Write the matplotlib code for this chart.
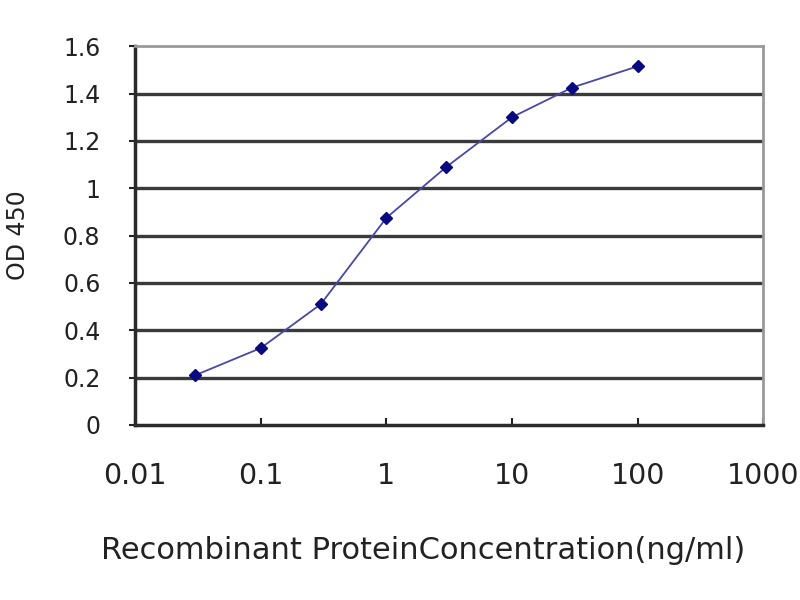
import matplotlib
matplotlib.use("Agg")
import matplotlib.pyplot as plt
from matplotlib.ticker import FixedLocator, FixedFormatter

# concentration (ng/ml) and OD 450 readings
conc = [0.03, 0.1, 0.3, 1, 3, 10, 30, 100]
od450 = [0.21, 0.325, 0.51, 0.875, 1.09, 1.30, 1.425, 1.515]

x_ticks = [0.01, 0.1, 1, 10, 100, 1000]
x_labels = ["0.01", "0.1", "1", "10", "100", "1000"]
y_ticks = [0, 0.2, 0.4, 0.6, 0.8, 1.0, 1.2, 1.4, 1.6]
y_labels = ["0", "0.2", "0.4", "0.6", "0.8", "1", "1.2", "1.4", "1.6"]

plt.rcParams['font.family'] = ['DejaVu Sans']

fig = plt.figure(figsize=(8, 6), dpi=100)
ax = fig.add_axes([0.169, 0.2917, 0.785, 0.6313])

ax.set_xscale("log")
ax.set_xlim(0.01, 1000)
ax.set_ylim(0, 1.6)

# horizontal gridlines like the excel plot
for y in y_ticks[1:-1]:
    ax.axhline(y, color="#3a3a3a", lw=2.4, zorder=1)

ax.plot(conc, od450, color="#4848a8", lw=1.3, zorder=2)
ax.plot(conc, od450, ls="none", marker="D", ms=6.5, color="#0a0a80", zorder=3)

ax.xaxis.set_major_locator(FixedLocator(x_ticks))
ax.xaxis.set_major_formatter(FixedFormatter(x_labels))
ax.xaxis.set_minor_locator(FixedLocator([]))
ax.set_yticks(y_ticks)
ax.set_yticklabels(y_labels)

ax.tick_params(axis="x", direction="in", length=5, width=1.5, labelsize=20.5, pad=27, colors="#222222")
ax.tick_params(axis="y", direction="out", length=4, width=1.5, labelsize=17, pad=21, colors="#222222")

for side in ("left", "bottom"):
    ax.spines[side].set_color("#2a2a2a")
    ax.spines[side].set_linewidth(2.5)
for side in ("top", "right"):
    ax.spines[side].set_color("#999999")
    ax.spines[side].set_linewidth(2.0)

ax.set_xlabel("Recombinant ProteinConcentration(ng/ml)", fontsize=22, color="#222222")
ax.xaxis.set_label_coords(0.459, -0.292)
ax.set_ylabel("OD 450", fontsize=17, labelpad=24, color="#222222")

fig.savefig("out.png", dpi=100, facecolor="white")
